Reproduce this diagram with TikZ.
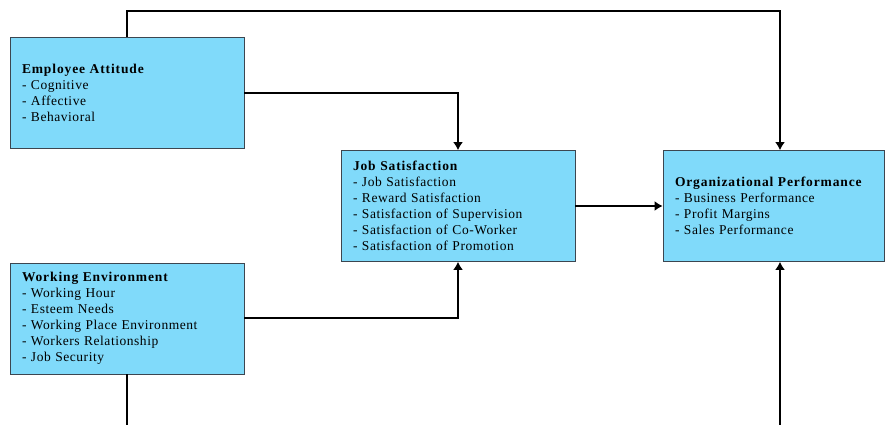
\documentclass[tikz,border=0pt]{standalone}
\usepackage{fontspec}
\usetikzlibrary{arrows.meta}
\setmainfont{Liberation Serif}[LetterSpace=4]
\definecolor{boxblue}{RGB}{128,218,250}
\definecolor{boxline}{RGB}{60,70,80}
\newcommand{\heading}[1]{{\bfseries\addfontfeature{LetterSpace=6.5}#1}}
\tikzset{
  factor/.style={draw=boxline, line width=0.8pt, fill=boxblue, align=left,
    inner xsep=12pt, inner ysep=0pt, minimum height=111pt,
    font=\fontsize{13.5}{16}\selectfont},
  link/.style={line width=2.5pt, >={Latex[length=8pt,width=10pt]}}
}
\begin{document}
\begin{tikzpicture}[x=1pt, y=-1pt]
  \useasboundingbox (0,0) rectangle (886,425);
  \node[factor, text width=210pt] (att) at (127,92.5) {\heading{Employee Attitude}\\- Cognitive\\- Affective\\- Behavioral};
  \node[factor, text width=210pt] (sat) at (458,206) {\heading{Job Satisfaction}\\- Job Satisfaction\\- Reward Satisfaction\\- Satisfaction of Supervision\\- Satisfaction of Co-Worker\\- Satisfaction of Promotion};
  \node[factor, text width=197pt] (perf) at (773.5,206) {\heading{Organizational Performance}\\- Business Performance\\- Profit Margins\\- Sales Performance};
  \node[factor, text width=210pt] (env) at (127,318.5) {\heading{Working Environment}\\- Working Hour\\- Esteem Needs\\- Working Place Environment\\- Workers Relationship\\- Job Security};
  \coordinate (top) at (780,11);
  \coordinate (envdown) at (127,425);
  \coordinate (perfup) at (780,425);
  % connectors
  \draw[link,->] (att.north) |- (top) -- (top |- perf.north);
  \draw[link,->] ([yshift=-0.5pt]att.east) -| (sat.north);
  \draw[link,->] ([yshift=0.5pt]env.east) -| (sat.south);
  \draw[link,->] (sat.east) -- (perf.west);
  \draw[link] (env.south) -- (envdown);
  \draw[link,->] (perfup) -- (perfup |- perf.south);
\end{tikzpicture}
\end{document}
